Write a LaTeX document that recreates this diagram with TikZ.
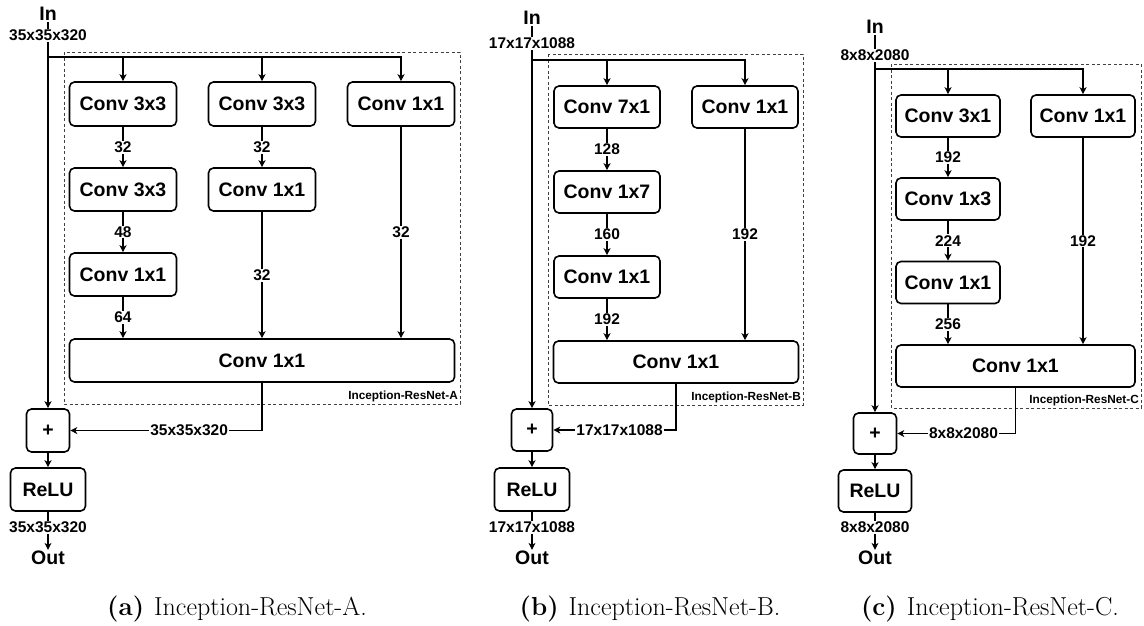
\documentclass[tikz,border=0pt]{standalone}
\usepackage{fontspec}
\setsansfont{Liberation Sans}
\usetikzlibrary{arrows.meta}
\begin{document}
\begin{tikzpicture}[x=1pt,y=-1pt,
  blk/.style={draw, line width=1.6pt, rounded corners=5pt, inner sep=0pt,
    font=\sffamily\bfseries\fontsize{19.5}{19.5}\selectfont},
  arr/.style={line width=1.1pt, -{Stealth[length=7pt,width=7pt,inset=2pt]}},
  lab/.style={fill=white, inner sep=1pt, font=\sffamily\bfseries\fontsize{15.5}{15.5}\selectfont},
  io/.style={inner sep=1pt, font=\sffamily\bfseries\fontsize{19.5}{19.5}\selectfont},
  grp/.style={draw=black!75, line width=0.9pt, dash pattern=on 3pt off 2.5pt},
  grplab/.style={inner sep=1pt, anchor=south east, font=\sffamily\bfseries\fontsize{11.8}{11.8}\selectfont},
  subcap/.style={font=\fontsize{26}{26}\selectfont}]
\useasboundingbox (0,0) rectangle (1144,625);

% ================= Panel A =================
\draw[grp] (64,52) rectangle (460,404);
\node[grplab] (gA) at (459,403) {Inception-ResNet-A};
\node[io] (inA) at (48,14) {In};
\node[blk, minimum width=43pt, minimum height=43pt] (plusA) at (48,430.5) {+};
\node[blk, minimum width=75pt, minimum height=43pt] (reluA) at (48,489.5) {ReLU};
\node[io] (outA) at (48,558) {Out};
\node[blk, minimum width=107pt, minimum height=44pt] (a11) at (123,104) {Conv 3x3};
\node[blk, minimum width=107pt, minimum height=43pt] (a12) at (123,189.5) {Conv 3x3};
\node[blk, minimum width=107pt, minimum height=43pt] (a13) at (123,274.5) {Conv 1x1};
\node[blk, minimum width=107pt, minimum height=44pt] (a21) at (262,104) {Conv 3x3};
\node[blk, minimum width=107pt, minimum height=43pt] (a22) at (262,189.5) {Conv 1x1};
\node[blk, minimum width=107pt, minimum height=44pt] (a31) at (401,104) {Conv 1x1};
\node[blk, minimum width=385pt, minimum height=43pt] (aB) at (262,360.5) {Conv 1x1};
\coordinate (brA) at (48,57);
\draw[arr] (inA) -- node[pos=0.035,lab]{35x35x320} (plusA);
\draw[arr] (brA) -| (a11.north);
\draw[arr] (brA) -| (a21.north);
\draw[arr] (brA) -| (a31.north);
\draw[arr] (a11) -- node[midway,lab]{32} (a12);
\draw[arr] (a12) -- node[midway,lab]{48} (a13);
\draw[arr] (a13) -- node[midway,lab]{64} (a13 |- aB.north);
\draw[arr] (a21) -- node[midway,lab]{32} (a22);
\draw[arr] (a22) -- node[midway,lab]{32} (a22 |- aB.north);
\draw[arr] (a31) -- node[midway,lab]{32} (a31 |- aB.north);
\draw[arr] (aB.south) |- node[pos=0.69,lab]{35x35x320} (plusA.east);
\draw[arr] (plusA) -- (reluA);
\draw[arr] (reluA) -- node[pos=0.4,lab]{35x35x320} (outA);
\node[subcap] (capA) at (237,609) {\textbf{(a)}\hspace{10pt}Inception-ResNet-A.};

% ================= Panel B =================
\draw[grp] (548,54) rectangle (803,405);
\node[grplab] (gB) at (802,404) {Inception-ResNet-B};
\node[io] (inB) at (532,18) {In};
\node[blk, minimum width=41pt, minimum height=42pt] (plusB) at (532,430) {+};
\node[blk, minimum width=75pt, minimum height=43pt] (reluB) at (532,489.5) {ReLU};
\node[io] (outB) at (532,558) {Out};
\node[blk, minimum width=106pt, minimum height=42pt] (b11) at (607,107) {Conv 7x1};
\node[blk, minimum width=106pt, minimum height=42pt] (b12) at (607,192) {Conv 1x7};
\node[blk, minimum width=106pt, minimum height=42pt] (b13) at (607,277) {Conv 1x1};
\node[blk, minimum width=106pt, minimum height=42pt] (b21) at (745,107) {Conv 1x1};
\node[blk, minimum width=245pt, minimum height=42pt] (bB) at (676,362) {Conv 1x1};
\coordinate (brB) at (532,60);
\draw[arr] (inB) -- node[pos=0.045,lab]{17x17x1088} (plusB);
\draw[arr] (brB) -| (b11.north);
\draw[arr] (brB) -| (b21.north);
\draw[arr] (b11) -- node[midway,lab]{128} (b12);
\draw[arr] (b12) -- node[midway,lab]{160} (b13);
\draw[arr] (b13) -- node[midway,lab]{192} (b13 |- bB.north);
\draw[arr] (b21) -- node[midway,lab]{192} (b21 |- bB.north);
\draw[arr] (bB.south) |- node[pos=0.73,lab]{17x17x1088} (plusB.east);
\draw[arr] (plusB) -- (reluB);
\draw[arr] (reluB) -- node[pos=0.4,lab]{17x17x1088} (outB);
\node[subcap] (capB) at (650,609) {\textbf{(b)}\hspace{10pt}Inception-ResNet-B.};

% ================= Panel C =================
\draw[grp] (891,64) rectangle (1141,408);
\node[grplab] (gC) at (1140,407) {Inception-ResNet-C};
\node[io] (inC) at (875,27) {In};
\node[blk, minimum width=43pt, minimum height=41pt] (plusC) at (875,433.5) {+};
\node[blk, minimum width=73pt, minimum height=42pt] (reluC) at (875,491) {ReLU};
\node[io] (outC) at (875,558) {Out};
\node[blk, minimum width=104pt, minimum height=42pt] (c11) at (948,116) {Conv 3x1};
\node[blk, minimum width=104pt, minimum height=42pt] (c12) at (948,199) {Conv 1x3};
\node[blk, minimum width=104pt, minimum height=42pt] (c13) at (948,282.5) {Conv 1x1};
\node[blk, minimum width=104pt, minimum height=42pt] (c21) at (1083,116) {Conv 1x1};
\node[blk, minimum width=239pt, minimum height=42pt] (cB) at (1015.5,366) {Conv 1x1};
\coordinate (brC) at (875,69);
\draw[arr] (inC) -- node[pos=0.055,lab]{8x8x2080} (plusC);
\draw[arr] (brC) -| (c11.north);
\draw[arr] (brC) -| (c21.north);
\draw[arr] (c11) -- node[midway,lab]{192} (c12);
\draw[arr] (c12) -- node[midway,lab]{224} (c13);
\draw[arr] (c13) -- node[midway,lab]{256} (c13 |- cB.north);
\draw[arr] (c21) -- node[midway,lab]{192} (c21 |- cB.north);
\draw[arr] (cB.south) |- node[pos=0.72,lab]{8x8x2080} (plusC.east);
\draw[arr] (plusC) -- (reluC);
\draw[arr] (reluC) -- node[pos=0.4,lab]{8x8x2080} (outC);
\node[subcap] (capC) at (990,609) {\textbf{(c)}\hspace{10pt}Inception-ResNet-C.};
\end{tikzpicture}
\end{document}
